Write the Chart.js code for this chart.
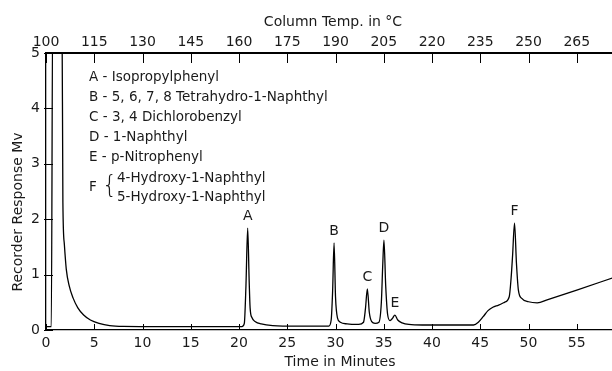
<!DOCTYPE html>
<html>
<head>
<meta charset="utf-8">
<script src="https://cdn.jsdelivr.net/npm/chart.js@4"></script>
<style>
  body { margin: 0; background: #fff; }
  canvas { display: block; }
</style>
</head>
<body>
<canvas id="myChart" width="612" height="371"></canvas>
<script>
// trace (time in minutes, response in mV)
const minutes = [0, 0.55, 0.7, 1.65, 1.75, 1.9, 2.1, 2.4, 2.8, 3.3, 3.9, 4.6, 5.5, 6.6, 8, 12, 16,
  20.3, 20.55, 20.72, 20.9, 21.05, 21.15, 21.35, 21.7, 22.3, 23.5, 26,
  29.3, 29.55, 29.7, 29.85, 30.0, 30.2, 30.5, 31.2, 32.4,
  32.9, 33.1, 33.3, 33.5, 33.75, 34.1, 34.5, 34.75, 34.9, 35.02, 35.2, 35.4, 35.65, 35.9, 36.15, 36.45, 36.9, 37.6, 39,
  44.3, 44.8, 45.3, 45.8, 46.3, 46.9, 47.5, 48.0, 48.2, 48.35, 48.55, 48.75, 48.95, 49.3, 50.0, 50.9, 52, 55, 58.7];
const response = [0.06, 0.06, 6, 6, 2.3, 1.55, 1.1, 0.8, 0.58, 0.4, 0.27, 0.18, 0.12, 0.08, 0.065, 0.06, 0.06,
  0.06, 0.12, 0.8, 1.84, 0.9, 0.4, 0.22, 0.15, 0.11, 0.08, 0.07,
  0.07, 0.18, 0.7, 1.57, 0.6, 0.22, 0.14, 0.11, 0.1,
  0.14, 0.38, 0.74, 0.32, 0.15, 0.12, 0.14, 0.5, 1.2, 1.62, 0.8, 0.28, 0.17, 0.21, 0.27, 0.18, 0.13, 0.1, 0.09,
  0.09, 0.14, 0.24, 0.35, 0.41, 0.45, 0.5, 0.6, 0.95, 1.35, 1.93, 1.2, 0.72, 0.57, 0.51, 0.49, 0.55, 0.72, 0.94];

const temp_labels = [100, 115, 130, 145, 160, 175, 190, 205, 220, 235, 250, 265];

const peak_names = ["A", "B", "C", "D", "E", "F"];
const peak_times = [20.9, 29.85, 33.3, 35.02, 36.15, 48.55];
const peak_heights = [1.84, 1.57, 0.74, 1.62, 0.27, 1.93];

const legend_lines = [
  "A - Isopropylphenyl",
  "B - 5, 6, 7, 8 Tetrahydro-1-Naphthyl",
  "C - 3, 4 Dichlorobenzyl",
  "D - 1-Naphthyl",
  "E - p-Nitrophenyl",
];
const f_lines = ["4-Hydroxy-1-Naphthyl", "5-Hydroxy-1-Naphthyl"];

const font_family = '"DejaVu Sans", sans-serif';
const ink = "#1a1a1a";
const tick_font = { family: font_family, size: 14 };

// inward tick marks, drawn from the scales' own ticks
const inner_ticks = (ctx, scale, len) => {
  scale.ticks.forEach((t) => {
    const p = Math.round(scale.getPixelForValue(t.value)) + 0.5;
    ctx.beginPath();
    if (scale.axis === "y") {
      ctx.moveTo(scale.right - 2, p);
      ctx.lineTo(scale.right + len, p);
    } else if (scale.position === "top") {
      ctx.moveTo(p, scale.bottom);
      ctx.lineTo(p, scale.bottom + len);
    } else {
      ctx.moveTo(p, scale.top);
      ctx.lineTo(p, scale.top - len);
    }
    ctx.stroke();
  });
};

const annotate = {
  id: "annotate",
  afterDraw(chart) {
    const ctx = chart.ctx;
    const xs = chart.scales.x;
    const ys = chart.scales.y;
    ctx.save();
    ctx.strokeStyle = "#000";
    ctx.lineWidth = 1;
    inner_ticks(ctx, xs, 6);
    inner_ticks(ctx, chart.scales.x2, 10);
    inner_ticks(ctx, ys, 7);

    ctx.fillStyle = ink;
    ctx.textAlign = "center";
    ctx.textBaseline = "middle";
    ctx.font = `14px ${font_family}`;
    ctx.fillText("Column Temp. in °C", 333, 22);
    ctx.fillText("Time in Minutes", 340, 362);
    ctx.save();
    ctx.translate(18, 212);
    ctx.rotate(-Math.PI / 2);
    ctx.fillText("Recorder Response Mv", 0, 0);
    ctx.restore();

    peak_names.forEach((name, i) => {
      ctx.fillText(name, xs.getPixelForValue(peak_times[i]), ys.getPixelForValue(peak_heights[i]) - 12);
    });

    ctx.textAlign = "left";
    ctx.font = `13.5px ${font_family}`;
    legend_lines.forEach((line, i) => ctx.fillText(line, 89, 77 + i * 20));
    ctx.fillText("F", 89, 187);
    f_lines.forEach((line, i) => ctx.fillText(line, 117, 178 + i * 19));
    ctx.font = `200 24px ${font_family}`;
    ctx.fillText("{", 102, 187);
    ctx.restore();
  },
};

const ctx = document.getElementById("myChart").getContext("2d");
const myChart = new Chart(ctx, {
  type: "scatter",
  data: {
    datasets: [
      {
        data: minutes.map((t, i) => ({ x: t, y: response[i] })),
        showLine: true,
        borderColor: "#000",
        borderWidth: 1.3,
        pointRadius: 0,
        cubicInterpolationMode: "monotone",
      },
    ],
  },
  options: {
    responsive: false,
    animation: false,
    layout: { padding: 0 },
    plugins: { legend: { display: false }, tooltip: { enabled: false } },
    scales: {
      x: {
        type: "linear",
        position: "bottom",
        min: 0,
        max: 58.65,
        afterFit: (s) => { s.height = 41; },
        border: { color: "#000", width: 1.3 },
        grid: { display: false, drawTicks: false },
        ticks: { stepSize: 5, includeBounds: false, padding: 5, color: ink, font: tick_font, maxRotation: 0, autoSkip: false },
      },
      x2: {
        type: "linear",
        position: "top",
        display: true,
        min: 0,
        max: 58.65,
        afterFit: (s) => { s.height = 53; },
        border: { color: "#000", width: 2 },
        grid: { display: false, drawTicks: false },
        ticks: {
          stepSize: 5, includeBounds: false, padding: 2, color: ink, font: tick_font, maxRotation: 0, autoSkip: false,
          callback: (v) => temp_labels[Math.round(v / 5)],
        },
      },
      y: {
        min: 0,
        max: 5,
        afterFit: (s) => { s.width = 46; },
        border: { color: "#000", width: 1.3 },
        grid: { display: false, drawTicks: false },
        ticks: { stepSize: 1, padding: 6, color: ink, font: tick_font },
      },
    },
  },
  plugins: [annotate],
});
</script>
</body>
</html>
